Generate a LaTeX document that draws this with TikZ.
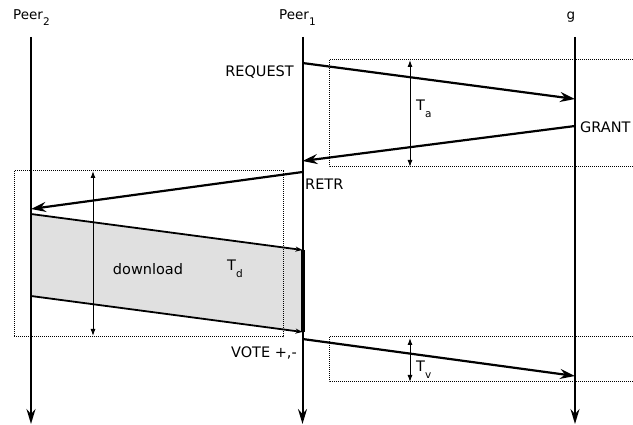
\documentclass[tikz,border=0pt]{standalone}
\usepackage{fontspec}
\setmainfont{DejaVu Sans}
\usetikzlibrary{arrows.meta}
\newcommand\lowsub[1]{\raisebox{-0.42em}{\fontsize{10.5}{11}\selectfont #1}}
\tikzset{
  lifeline/.style={line width=2pt,-{Stealth[length=15pt,width=9pt,inset=5pt]}},
  msg/.style={line width=2.2pt,-{Stealth[length=15pt,width=10pt,inset=5pt]}},
  dl/.style={line width=1.8pt,-{Stealth[length=7pt,width=5pt,inset=2pt]}},
  span/.style={line width=1pt,{Latex[length=7pt,width=5pt]}-{Latex[length=7pt,width=5pt]}},
  dotbox/.style={line width=1pt,densely dotted},
  lbl/.style={inner sep=0pt,font=\fontsize{14.5}{16}\selectfont},
  hdr/.style={inner sep=0pt,font=\fontsize{13.5}{15}\selectfont},
}
\begin{document}
\begin{tikzpicture}[x=1pt,y=-1pt]
\useasboundingbox (0,0) rectangle (633,425);
% lifeline coordinates
\coordinate (p2top) at (31,37);  \coordinate (p2bot) at (31,424);
\coordinate (p1top) at (302.5,37); \coordinate (p1bot) at (302.5,424);
\coordinate (gtop) at (575,37);  \coordinate (gbot) at (575,424);
% message endpoints
\coordinate (reqS) at (302.5,63);  \coordinate (reqE) at (575,99);
\coordinate (grS) at (575,126);    \coordinate (grE) at (302.5,161);
\coordinate (rtS) at (302.5,172);  \coordinate (rtE) at (31,209);
\coordinate (d1S) at (31,214);     \coordinate (d1E) at (302.5,250);
\coordinate (d2S) at (31,296);     \coordinate (d2E) at (302.5,332);
\coordinate (vtS) at (302.5,339);  \coordinate (vtE) at (575,376);
% shaded download region
\fill[black!12] (d1S) -- (d1E) -- (d2E) -- (d2S) -- cycle;
% dotted boxes
\draw[dotbox] (633,60) -- (329,60) -- (329,167) -- (633,167);
\draw[dotbox] (14,171) rectangle (283,337);
\draw[dotbox] (633,337) -- (329,337) -- (329,382) -- (633,382);
% lifelines
\draw[lifeline] (p2top) -- (p2bot);
\draw[lifeline] (p1top) -- (p1bot);
\draw[lifeline] (gtop) -- (gbot);
\draw[line width=4pt] (d1E) -- (d2E);
% headers
\node[hdr,anchor=base west] (hp2) at (13,20) {Peer\lowsub{2}};
\node[hdr,anchor=base west] (hp1) at (279,20) {Peer\lowsub{1}};
\node[hdr,anchor=base] (hg) at (571,20) {g};
% messages
\draw[msg] (reqS) -- (reqE);
\draw[msg] (grS) -- (grE);
\draw[msg] (rtS) -- (rtE);
\draw[dl] (d1S) -- (d1E);
\draw[dl] (d2S) -- (d2E);
\draw[msg] (vtS) -- (vtE);
% labels
\node[lbl,anchor=base east] (lreq) at (294,77) {REQUEST};
\node[lbl,anchor=base west] (lgr) at (580,133) {GRANT};
\node[lbl,anchor=base west] (lrt) at (305,190) {RETR};
\node[lbl,anchor=base east] (lvt) at (297,358) {VOTE +,-};
\node[lbl] (ldl) at (148,269) {download};
% spans
\coordinate (taT) at (410,60); \coordinate (taB) at (410,167);
\coordinate (tdT) at (93,171); \coordinate (tdB) at (93,336);
\coordinate (tvT) at (410,338); \coordinate (tvB) at (410,382);
\draw[span] (taT) -- (taB);
\draw[span] (tdT) -- (tdB);
\draw[span] (tvT) -- (tvB);
\node[lbl,anchor=base west] (lta) at (416,111) {T\lowsub{a}};
\node[lbl,anchor=base west] (ltd) at (227,271) {T\lowsub{d}};
\node[lbl,anchor=base west] (ltv) at (416,372) {T\lowsub{v}};
\end{tikzpicture}
\end{document}
